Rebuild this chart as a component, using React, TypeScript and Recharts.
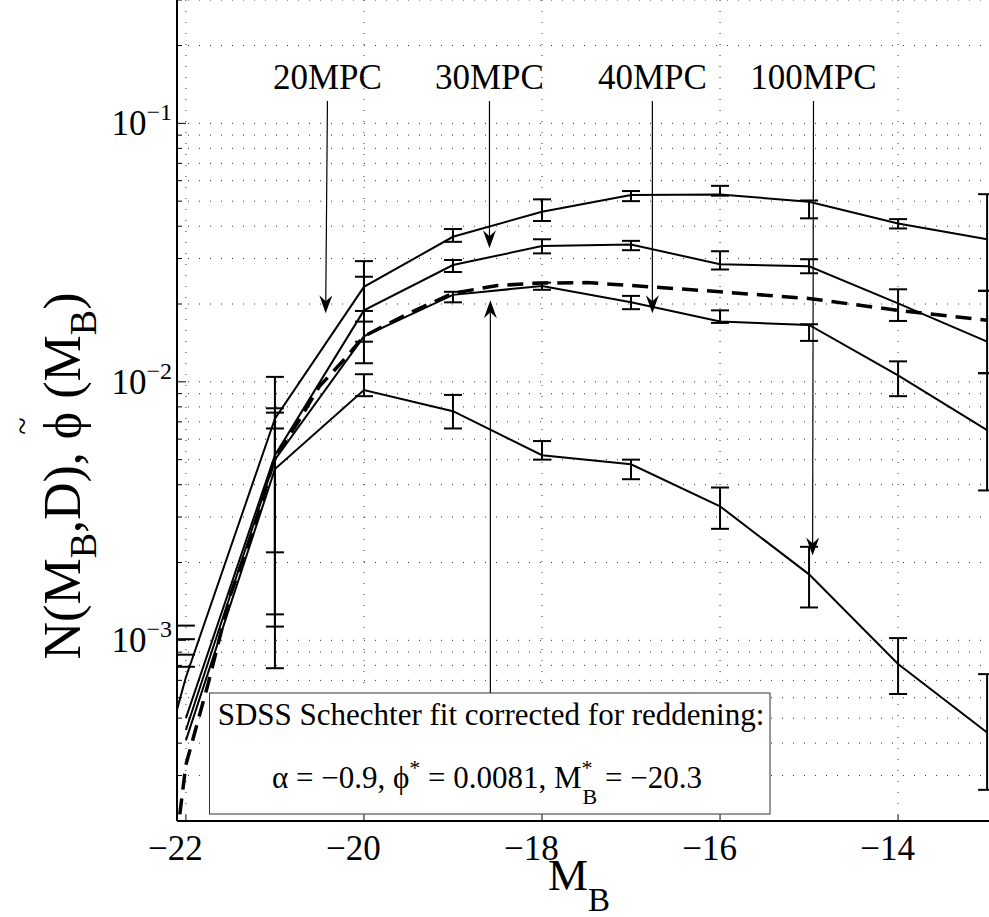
import React from "react";
import { ComposedChart, Line, XAxis, YAxis, CartesianGrid, ErrorBar, ReferenceLine } from "recharts";

// absolute magnitude bins
const mags = [-23, -22, -21, -20, -19, -18, -17, -16, -15, -14, -13];

// four distance-limited samples (values, lower and upper error ends)
const s1 = [0.00004, 0.00072, 0.0072, 0.0233, 0.0364, 0.0455, 0.0528, 0.0531, 0.0497, 0.041, 0.0356];
const s1Lo = [null, null, 0.00219, 0.0188, 0.0348, 0.0419, 0.05, 0.0525, 0.0429, 0.0392, 0.0225];
const s1Hi = [null, null, 0.01045, 0.0293, 0.039, 0.0508, 0.0547, 0.0573, 0.0503, 0.0426, 0.0532];

const s2 = [null, 0.0005, 0.0052, 0.0189, 0.0283, 0.0335, 0.034, 0.0285, 0.028, 0.0201, 0.0143];
const s2Lo = [null, null, 0.00126, 0.0143, 0.0266, 0.0314, 0.0323, 0.0272, 0.0263, 0.0172, 0.0108];
const s2Hi = [null, null, 0.0079, 0.0255, 0.0296, 0.0356, 0.0351, 0.032, 0.0298, 0.0228, 0.0225];

const s3 = [null, 0.00045, 0.005, 0.015, 0.0217, 0.0235, 0.0203, 0.0171, 0.0166, 0.0106, 0.0065];
const s3Lo = [null, null, 0.00113, 0.0118, 0.0203, 0.0227, 0.0191, 0.0169, 0.0144, 0.0088, 0.0038];
const s3Hi = [null, null, 0.0076, 0.0171, 0.0223, 0.0242, 0.0215, 0.0189, 0.0167, 0.012, 0.0108];

const s4 = [null, 0.00041, 0.0046, 0.0093, 0.0077, 0.0052, 0.0048, 0.0033, 0.0018, 0.00081, 0.00044];
const s4Lo = [null, null, 0.00078, 0.0088, 0.0066, 0.005, 0.0042, 0.0027, 0.00134, 0.00062, 0.000264];
const s4Hi = [null, null, 0.0066, 0.0107, 0.0089, 0.0059, 0.005, 0.0039, 0.0023, 0.00102, 0.00074];

// upper caps only at M=-22 (lower ends fall below zero)
const capsM = [-22, -22, -22, -22];
const capsV = [0.00114, 0.00101, 0.00088, 0.00079];

// SDSS Schechter fit
const schM = [-22.1, -22.07, -22, -21.75, -21.5, -21.25, -21, -20.75, -20.5, -20.25, -20, -19.5, -19, -18.5, -18, -17.5, -17, -16, -15, -14, -13];
const schV = [0.00017, 0.00021, 0.00033, 0.00068, 0.0015, 0.0026, 0.0051, 0.0069, 0.0096, 0.0119, 0.015, 0.0184, 0.022, 0.0236, 0.0241, 0.0242, 0.0236, 0.0223, 0.021, 0.0189, 0.0173];

// arrow annotations: label, start (m, v), end (m, v)
const arrowLabels = ["20MPC", "30MPC", "40MPC", "100MPC", ""];
const arrowFrom = [[-20.41, 0.122], [-18.59, 0.122], [-16.76, 0.122], [-14.95, 0.122], [-18.58, 0.000624]];
const arrowTo = [[-20.43, 0.0184], [-18.59, 0.0329], [-16.76, 0.0184], [-14.96, 0.00213], [-18.58, 0.0207]];

const xTicks = [-22, -20, -18, -16, -14];
const yMajor = [0.001, 0.01, 0.1];
const yTicks = [
  0.0002, 0.0003, 0.0004, 0.0005, 0.0006, 0.0007, 0.0008, 0.0009,
  0.001, 0.002, 0.003, 0.004, 0.005, 0.006, 0.007, 0.008, 0.009,
  0.01, 0.02, 0.03, 0.04, 0.05, 0.06, 0.07, 0.08, 0.09,
  0.1, 0.2, 0.3,
];

const FONT = "'Liberation Serif', 'Times New Roman', serif";

const rows = (vals, lo, hi) =>
  mags.map((m, i) => ({
    m,
    v: vals[i],
    err: lo[i] == null ? null : [vals[i] - lo[i], hi[i] - vals[i]],
  }));

const series = [rows(s1, s1Lo, s1Hi), rows(s2, s2Lo, s2Hi), rows(s3, s3Lo, s3Hi), rows(s4, s4Lo, s4Hi)];
const capRows = capsM.map((m, i) => ({ m, v: capsV[i] }));
const schRows = schM.map((m, i) => ({ m, v: schV[i] }));

const CapDot = (props) => {
  const { cx, cy, index } = props;
  if (cx == null || cy == null) return <g key={index} />;
  return <line key={index} x1={cx - 9} x2={cx + 9} y1={cy} y2={cy} stroke="#000" strokeWidth={2} />;
};

const Arrow = ({ x1, y1, x2, y2, text }) => {
  const dx = x2 - x1;
  const dy = y2 - y1;
  const len = Math.sqrt(dx * dx + dy * dy);
  const ux = dx / len;
  const uy = dy / len;
  const px = -uy;
  const py = ux;
  const hl = 18;
  const hw = 6.5;
  const notch = 12;
  const bx = x2 - ux * hl;
  const by = y2 - uy * hl;
  const nx = x2 - ux * notch;
  const ny = y2 - uy * notch;
  const head = `${x2},${y2} ${bx + px * hw},${by + py * hw} ${nx},${ny} ${bx - px * hw},${by - py * hw}`;
  return (
    <g>
      <line x1={x1} y1={y1} x2={nx} y2={ny} stroke="#000" strokeWidth={1.2} />
      <polygon points={head} fill="#000" />
      {text ? (
        <text x={x1} y={y1 - 12} textAnchor="middle" fontFamily={FONT} fontSize={35} fill="#000">
          {text}
        </text>
      ) : null}
    </g>
  );
};

const YTick = ({ x, y, payload }) => {
  const v = payload.value;
  const major = yMajor.some((t) => Math.abs(t - v) / t < 1e-6);
  const exp = Math.round(Math.log10(v));
  return (
    <g>
      <line x1={x} x2={x + (major ? 9 : 5)} y1={y} y2={y} stroke="#000" strokeWidth={1} />
      {major ? (
        <text x={x - 5} y={y + 12} textAnchor="end" fontFamily={FONT} fontSize={35} fill="#000">
          10
          <tspan dy={-15} fontSize={24}>{`\u2212${Math.abs(exp)}`}</tspan>
        </text>
      ) : null}
    </g>
  );
};

const XTick = ({ x, y, payload }) => (
  <g>
    <line x1={x} x2={x} y1={y} y2={y - 6} stroke="#000" strokeWidth={1} />
    <text x={x - 10.5} y={y + 38.5} textAnchor="middle" fontFamily={FONT} fontSize={35} fill="#000">
      {`\u2212${Math.abs(payload.value)}`}
    </text>
  </g>
);

const TopTick = ({ x, y }) => <line x1={x} x2={x} y1={y} y2={y + 8} stroke="#000" strokeWidth={1} />;

export default function App() {
  return (
    <div style={{ position: "absolute", left: 0, top: 0, width: 989, height: 917, overflow: "hidden", background: "#fff" }}>
      <ComposedChart width={996} height={917} margin={{ top: 0, right: 0, bottom: 0, left: 0 }}>
        <CartesianGrid stroke="#333" strokeDasharray="1 10" strokeWidth={1} />
        <XAxis
          xAxisId={0}
          type="number"
          dataKey="m"
          domain={[-22.1, -12.9]}
          allowDataOverflow
          ticks={xTicks}
          tickSize={0}
          tickMargin={0}
          tick={<XTick />}
          height={96}
          axisLine={{ stroke: "#000", strokeWidth: 2 }}
          tickLine={false}
        />
        <XAxis
          xAxisId="top"
          orientation="top"
          type="number"
          dataKey="m"
          domain={[-22.1, -12.9]}
          allowDataOverflow
          ticks={xTicks}
          tickSize={0}
          tickMargin={0}
          tick={<TopTick />}
          height={0}
          axisLine={{ stroke: "#000", strokeWidth: 2 }}
          tickLine={false}
        />
        <YAxis
          type="number"
          scale="log"
          domain={[0.0002, 0.3]}
          allowDataOverflow
          ticks={yTicks}
          interval={0}
          tickSize={0}
          tickMargin={0}
          tick={<YTick />}
          width={177}
          axisLine={{ stroke: "#000", strokeWidth: 2 }}
          tickLine={false}
        />
        {series.map((d, i) => (
          <Line
            key={i}
            data={d}
            dataKey="v"
            type="linear"
            stroke="#000"
            strokeWidth={2}
            dot={false}
            isAnimationActive={false}
          >
            <ErrorBar dataKey="err" width={9} stroke="#000" strokeWidth={2} isAnimationActive={false} />
          </Line>
        ))}
        <Line
          data={schRows}
          dataKey="v"
          type="linear"
          stroke="#000"
          strokeWidth={3.5}
          strokeDasharray="16 9"
          dot={false}
          isAnimationActive={false}
        />
        <Line data={capRows} dataKey="v" stroke="none" dot={CapDot} isAnimationActive={false} />
        {arrowLabels.map((label, i) => (
          <ReferenceLine
            key={i}
            segment={[
              { x: arrowFrom[i][0], y: arrowFrom[i][1] },
              { x: arrowTo[i][0], y: arrowTo[i][1] },
            ]}
            ifOverflow="visible"
            shape={(p) => <Arrow x1={p.x1} y1={p.y1} x2={p.x2} y2={p.y2} text={label} />}
          />
        ))}
      </ComposedChart>
      <svg width={989} height={917} style={{ position: "absolute", left: 0, top: 0, pointerEvents: "none" }}>
        <rect x={209.5} y={693} width={560.5} height={121} fill="#fff" stroke="#333" strokeWidth={1} />
        <text x={491} y={725} textAnchor="middle" fontFamily={FONT} fontSize={31} fill="#000">
          SDSS Schechter fit corrected for reddening:
        </text>
        <text x={487} y={788} textAnchor="middle" fontFamily={FONT} fontSize={31} fill="#000">
          {"\u03b1 = \u22120.9, \u03d5"}
          <tspan dy={-13} fontSize={22}>*</tspan>
          <tspan dy={13}>{" = 0.0081, M"}</tspan>
          <tspan dy={-13} fontSize={22}>*</tspan>
          <tspan dx={-10} dy={29} fontSize={22}>B</tspan>
          <tspan dy={-16}>{" = \u221220.3"}</tspan>
        </text>
        <text x={548} y={890} fontFamily={FONT} fontSize={45} fill="#000">
          M<tspan dy={21} fontSize={33}>B</tspan>
        </text>
        <g transform="translate(80,476) rotate(-90)">
          <text x={0} y={0} textAnchor="middle" fontFamily={FONT} fontSize={52} fill="#000">
            {"N(M"}
            <tspan dy={16} fontSize={38}>B</tspan>
            <tspan dy={-16}>{",D), \u03d5 (M"}</tspan>
            <tspan dy={16} fontSize={38}>B</tspan>
            <tspan dy={-16}>)</tspan>
          </text>
        </g>
        <text transform="translate(33,426) rotate(-90)" textAnchor="middle" fontFamily={FONT} fontSize={32} fill="#000">
          ~
        </text>
      </svg>
    </div>
  );
}
